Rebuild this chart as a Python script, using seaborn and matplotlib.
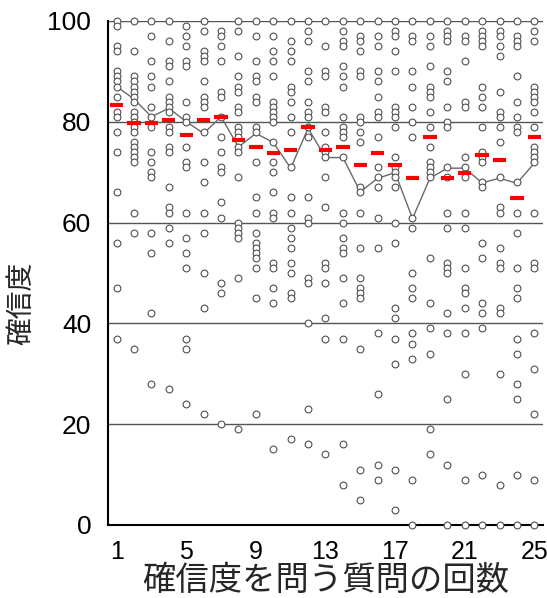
import numpy as np
import pandas as pd
import matplotlib
matplotlib.use("Agg")
import matplotlib.pyplot as plt
import seaborn as sns

# ---- data ----
questions = list(range(1, 26))

q01 = [100, 99, 95, 94, 90, 89, 88, 87, 85, 82, 81, 78, 74, 66, 56, 47, 37]
q02 = [100, 94, 89, 88, 87, 86, 85, 84, 82, 81, 80, 79, 78, 76, 75, 74, 73, 72, 62, 58, 35]
q03 = [100, 97, 92, 89, 87, 83, 81, 79, 74, 72, 70, 69, 58, 54, 42, 28]
q04 = [100, 96, 92, 91, 88, 85, 84, 83, 82, 79, 78, 75, 74, 67, 63, 62, 59, 56, 27]
q05 = [99, 97, 95, 92, 91, 84, 81, 80, 75, 72, 71, 62, 57, 54, 51, 37, 35, 24]
q06 = [100, 98, 94, 93, 92, 88, 85, 84, 83, 78, 72, 68, 62, 58, 50, 43, 22]
q07 = [98, 97, 95, 92, 86, 85, 81, 77, 74, 71, 70, 64, 61, 48, 46, 20]
q08 = [100, 98, 93, 89, 87, 86, 83, 82, 79, 78, 77, 75, 74, 69, 60, 59, 58, 57, 49, 19]
q09 = [100, 97, 92, 89, 88, 85, 84, 79, 78, 72, 65, 62, 58, 56, 55, 54, 53, 51, 45, 22]
q10 = [100, 97, 94, 92, 89, 84, 83, 82, 81, 80, 76, 72, 70, 66, 62, 61, 52, 51, 47, 44, 15]
q11 = [100, 96, 94, 92, 87, 86, 84, 81, 78, 71, 65, 62, 59, 57, 55, 52, 50, 46, 45, 17]
q12 = [100, 98, 96, 90, 88, 84, 82, 81, 79, 77, 65, 61, 60, 49, 48, 40, 23, 16]
q13 = [100, 95, 90, 89, 83, 82, 78, 75, 74, 73, 69, 63, 52, 51, 48, 41, 37, 14]
q14 = [100, 98, 96, 95, 91, 89, 87, 81, 79, 78, 77, 73, 62, 60, 57, 55, 54, 49, 44, 37, 16, 8]
q15 = [100, 97, 96, 94, 90, 89, 81, 80, 78, 76, 67, 66, 62, 55, 49, 47, 46, 45, 35, 11, 5]
q16 = [100, 97, 95, 90, 88, 85, 82, 81, 77, 71, 69, 67, 61, 55, 38, 26, 12, 9]
q17 = [100, 98, 97, 94, 90, 83, 82, 81, 79, 73, 71, 70, 69, 67, 60, 56, 43, 41, 37, 32, 11, 3]
q18 = [100, 97, 96, 90, 87, 83, 80, 77, 61, 59, 50, 47, 45, 38, 36, 33, 9, 0]
q19 = [100, 97, 95, 91, 87, 86, 85, 82, 79, 75, 72, 71, 70, 69, 53, 44, 39, 34, 19, 14]
q20 = [100, 98, 97, 96, 90, 88, 83, 80, 79, 71, 69, 62, 59, 52, 51, 50, 42, 38, 25, 12, 0]
q21 = [100, 97, 96, 92, 84, 83, 73, 71, 69, 62, 59, 51, 47, 46, 43, 38, 30, 9, 0]
q22 = [100, 98, 97, 96, 95, 87, 85, 83, 79, 74, 73, 72, 68, 67, 56, 53, 44, 42, 39, 10, 0]
q23 = [100, 98, 97, 95, 93, 86, 82, 81, 79, 76, 69, 63, 62, 55, 52, 51, 43, 42, 30, 8, 0]
q24 = [100, 97, 96, 95, 89, 84, 81, 79, 78, 68, 62, 58, 51, 47, 45, 37, 34, 28, 25, 10, 0]
q25 = [100, 98, 96, 87, 86, 85, 84, 82, 79, 75, 74, 73, 72, 62, 52, 51, 38, 31, 22, 9, 0]

answers = [q01, q02, q03, q04, q05, q06, q07, q08, q09, q10, q11, q12, q13,
           q14, q15, q16, q17, q18, q19, q20, q21, q22, q23, q24, q25]

# red dashes (mean) and grey line (median)
mean_vals = [83.4, 79.8, 79.8, 80.3, 77.4, 80.3, 81.0, 76.4, 74.9, 73.9, 74.4, 79.0, 74.4,
             74.9, 71.4, 73.9, 71.4, 68.9, 76.9, 68.9, 69.9, 73.4, 72.4, 64.8, 76.9]
median_vals = [87, 84.5, 81, 82.7, 80, 77.7, 81, 75, 77.7, 75.9, 70.8, 78.7, 72.9,
               72.9, 66.1, 68.8, 69.9, 60.8, 68.8, 70.8, 70.8, 67.9, 68.8, 67.8, 71.8]

ytick_vals = [0, 20, 40, 60, 80, 100]
xtick_labels = [1, 5, 9, 13, 17, 21, 25]
xlabel = "確信度を問う質問の回数"
ylabel = "確信度"

# ---- build tables ----
pts = pd.DataFrame([(q, v) for q, vals in zip(questions, answers) for v in vals],
                   columns=["q", "conf"])
summary = pd.DataFrame({"q": questions, "mean": mean_vals, "median": median_vals})

sns.set_style("white")
plt.rcParams["font.family"] = ["Liberation Sans", "Noto Sans CJK JP", "DejaVu Sans"]

fig = plt.figure(figsize=(5.47, 5.98), dpi=100)
ax = fig.add_axes([0.1974, 0.1221, 0.7953, 0.8428])

for yv in ytick_vals[1:]:
    ax.axhline(yv, color="#555555", lw=1.0, zorder=1)

sns.lineplot(data=summary, x="q", y="median", ax=ax, color="#6a6a6a", lw=1.0,
             zorder=2, legend=False)
sns.scatterplot(data=pts, x="q", y="conf", ax=ax, marker="o", s=24,
                facecolor="white", edgecolor="#505050", linewidth=0.8,
                zorder=3, clip_on=False, legend=False)
ax.hlines(summary["mean"], summary["q"] - 0.38, summary["q"] + 0.38,
          color="#ff0000", lw=3, zorder=4)

ax.set_xlim(0.5, 25.5)
ax.set_ylim(0, 100)
ax.set_yticks(ytick_vals)
ax.set_xticks(questions)
ax.set_xticklabels([str(q) if q in xtick_labels else "" for q in questions])

for s in ["top", "right"]:
    ax.spines[s].set_visible(False)
for s in ["left", "bottom"]:
    ax.spines[s].set_color("black")
    ax.spines[s].set_linewidth(1.5)

ax.tick_params(axis="y", direction="out", length=7, width=1.5, labelsize=19,
               colors="black", pad=5)
ax.tick_params(axis="x", direction="in", length=5, width=1.5, labelsize=18,
               colors="black", pad=11)
ax.set_xlabel(xlabel, fontsize=24, labelpad=1)
ax.set_ylabel(ylabel, fontsize=20)
ax.yaxis.set_label_coords(-0.168, 0.44)

fig.savefig("out.png", dpi=100)
